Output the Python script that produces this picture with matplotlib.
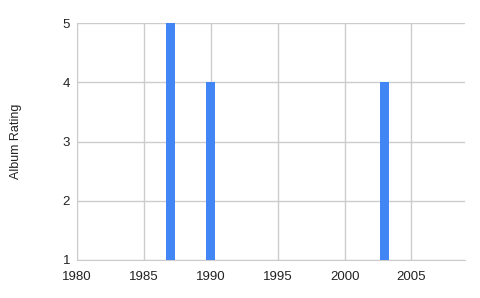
import matplotlib
matplotlib.use("Agg")
import matplotlib.pyplot as plt

years = [1987, 1990, 2003]
ratings = [5, 4, 4]
xticks = [1980, 1985, 1990, 1995, 2000, 2005]
yticks = [1, 2, 3, 4, 5]

BLUE = "#4285f4"
GRID = "#cccccc"


def main():
    plt.rcParams["font.family"] = ["Liberation Sans", "DejaVu Sans"]
    fig = plt.figure(figsize=(4.8, 2.98), dpi=100)
    ax = fig.add_axes([77 / 480, 38 / 298, 388 / 480, 237 / 298])

    ax.bar(years, [r - 1 for r in ratings], bottom=1, width=0.67,
           color=BLUE, zorder=3)

    ax.set_xlim(1980, 2009)
    ax.set_ylim(1, 5)
    ax.set_xticks(xticks)
    ax.set_yticks(yticks)
    ax.grid(True, color=GRID, linewidth=1, zorder=0)
    for s in ax.spines.values():
        s.set_visible(False)
    ax.spines["left"].set_visible(True)
    ax.spines["left"].set_color(GRID)
    ax.spines["bottom"].set_visible(True)
    ax.spines["bottom"].set_color(GRID)
    ax.tick_params(length=0, labelsize=9.5, colors="#222222")
    ax.tick_params(axis="x", pad=8)
    ax.tick_params(axis="y", pad=5)
    ax.set_ylabel("Album Rating", fontsize=9, color="#222222")
    ax.yaxis.set_label_coords(-0.142, 0.5)

    fig.savefig("out.png", dpi=100)


if __name__ == "__main__":
    main()
